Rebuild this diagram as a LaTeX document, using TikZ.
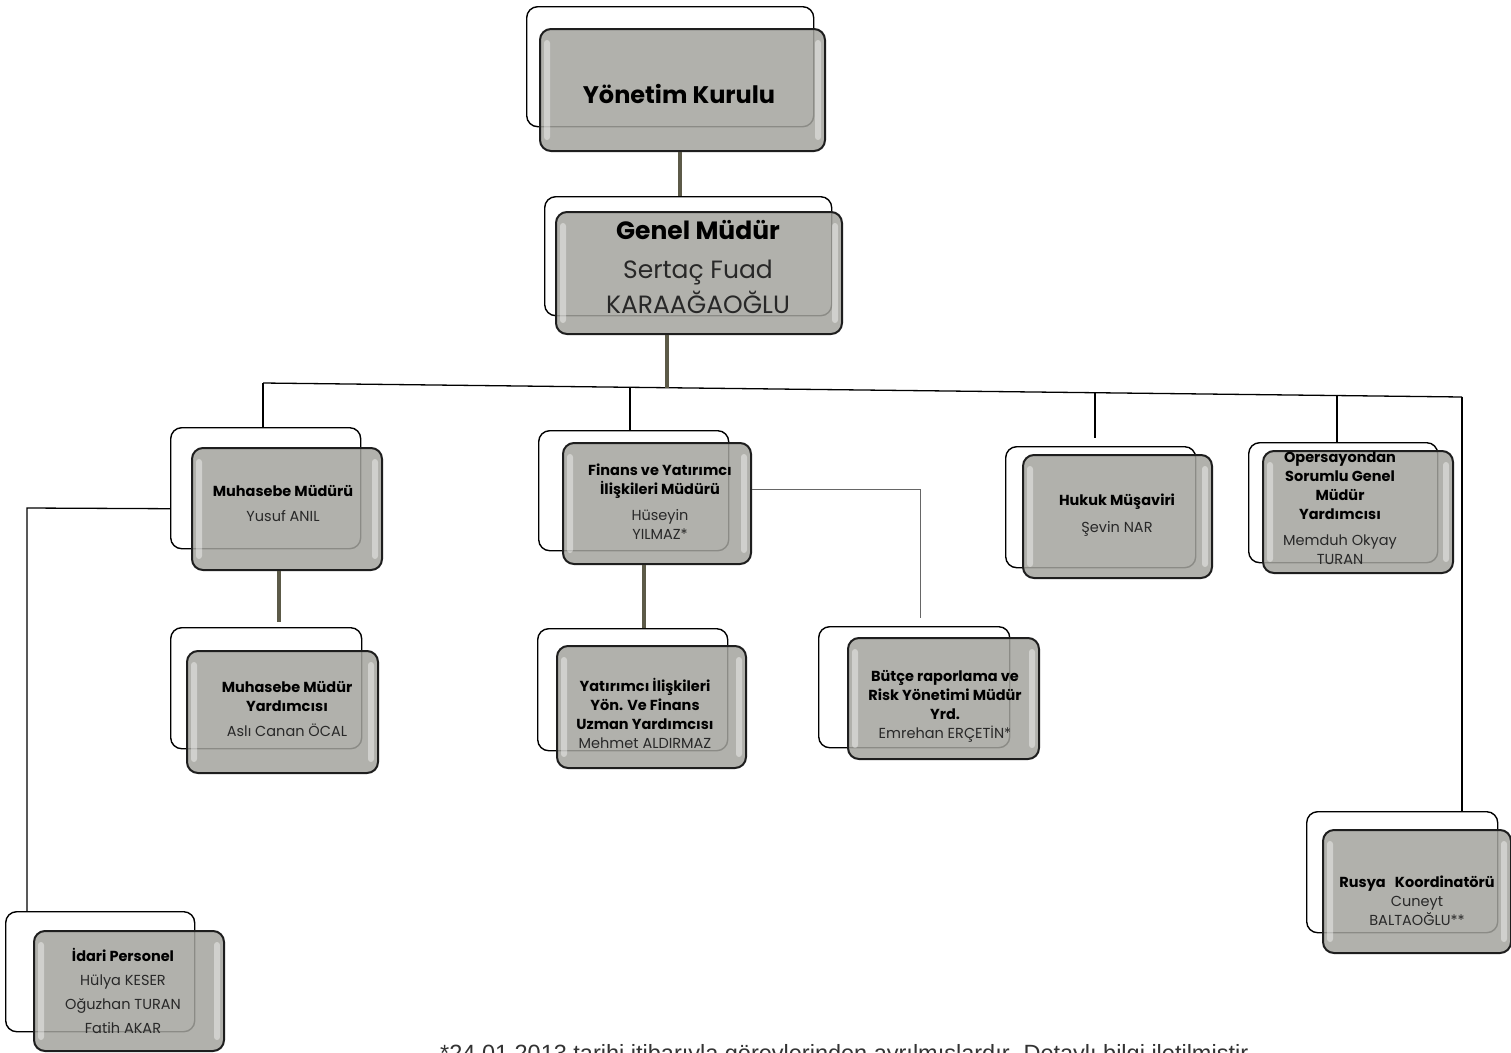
\documentclass[tikz,border=0pt]{standalone}
\usepackage{fontspec}
\setmainfont{Poppins}
\newfontfamily\footfont{Liberation Sans}
\definecolor{frontfill}{RGB}{164,164,158}
\definecolor{frontline}{RGB}{30,30,30}
\definecolor{connol}{RGB}{92,90,72}
\definecolor{nametext}{RGB}{40,40,40}
\newcommand\mkbox[9]{%
  \node[backbox, minimum width=#4pt, minimum height=#5pt] (#1B) at (#2,#3) {};
  \node[frontbox, minimum width=#8pt, minimum height=#9pt] (#1) at (#6,#7) {};
  \fill[gloss] ([xshift=5pt,yshift=-12pt]#1.north west) rectangle ([xshift=11pt,yshift=12pt]#1.south west);
  \fill[gloss] ([xshift=-11pt,yshift=-12pt]#1.north east) rectangle ([xshift=-5pt,yshift=12pt]#1.south east);
}
\begin{document}
\begin{tikzpicture}[x=1pt,y=-1pt,
  backbox/.style={draw=black, line width=1.4pt, fill=white, rounded corners=11pt, anchor=north west, inner sep=0pt},
  frontbox/.style={draw=frontline, line width=2pt, fill=frontfill, fill opacity=0.85, rounded corners=11pt, anchor=north west, inner sep=0pt},
  gloss/.style={fill=white, fill opacity=0.4, draw=none, rounded corners=3pt},
  boxtext/.style={align=center, font=\fontsize{14.5}{19}\selectfont, inner sep=0pt, text=nametext},
  thickconn/.style={draw=connol, line width=3.5pt},
  conn/.style={draw=black, line width=1.3pt},
  thinconn/.style={draw=black!60, line width=0.8pt},
]
\clip (0,0) rectangle (1511,1052);
\fill[white] (0,0) rectangle (1511,1052);

% boxes: name, back x,y,w,h, front x,y,w,h
\mkbox{yk}{526}{6}{287}{120}{539}{28}{285}{122}
\mkbox{gm}{544}{196}{287}{119}{555}{211}{286}{122}
\mkbox{muh}{170}{427}{190}{121}{191}{447}{190}{122}
\mkbox{fin}{538}{430}{190}{120}{562}{442}{188}{121}
\mkbox{huk}{1005}{446}{190}{121}{1022}{454}{189}{123}
\mkbox{ops}{1248}{442}{189}{120}{1262}{450}{190}{122}
\mkbox{muy}{170}{627}{191}{121}{186}{650}{191}{122}
\mkbox{yat}{537}{628}{190}{122}{556}{645}{189}{122}
\mkbox{but}{818}{626}{191}{121}{847}{637}{191}{121}
\mkbox{rus}{1306}{811}{191}{121}{1322}{829}{188}{123}
\mkbox{ida}{5}{911}{189}{120}{33}{930}{190}{120}

% texts
\node[boxtext, text=black, font=\fontsize{24}{30}\selectfont\bfseries] (yk-t) at (679,94) {Yönetim Kurulu};
\node[boxtext, font=\fontsize{25}{35}\selectfont] (gm-t) at (698,267) {\textcolor{black}{\fontsize{25}{30}\selectfont\bfseries Genel Müdür}\\[4pt]Sertaç Fuad\\KARAAĞAOĞLU};
\node[boxtext] (muh-t) at (283,503.5) {\textcolor{black}{\bfseries Muhasebe Müdürü}\\[6pt]Yusuf ANIL};
\node[boxtext] (fin-t) at (660,502) {\textcolor{black}{\bfseries Finans ve Yatırımcı}\\\textcolor{black}{\bfseries İlişkileri Müdürü}\\[7pt]Hüseyin\\YILMAZ*};
\node[boxtext] (huk-t) at (1117,515.5) {\textcolor{black}{\bfseries Hukuk Müşaviri}\\[8pt]Şevin NAR};
\node[boxtext] (ops-t) at (1340,508.5) {\textcolor{black}{\bfseries Opersayondan}\\\textcolor{black}{\bfseries Sorumlu Genel}\\\textcolor{black}{\bfseries Müdür}\\\textcolor{black}{\bfseries Yardımcısı}\\[7pt]Memduh Okyay\\TURAN};
\node[boxtext] (muy-t) at (287,709) {\textcolor{black}{\bfseries Muhasebe Müdür}\\\textcolor{black}{\bfseries Yardımcısı}\\[6pt]Aslı Canan ÖCAL};
\node[boxtext] (yat-t) at (645,713.5) {\textcolor{black}{\bfseries Yatırımcı İlişkileri}\\\textcolor{black}{\bfseries Yön. Ve Finans}\\\textcolor{black}{\bfseries Uzman Yardımcısı}\\Mehmet ALDIRMAZ};
\node[boxtext] (but-t) at (945,706) {\textcolor{black}{\bfseries Bütçe raporlama ve}\\\textcolor{black}{\bfseries Risk Yönetimi Müdür}\\\textcolor{black}{\bfseries Yrd.}\\Emrehan ERÇETİN*};
\node[boxtext] (rus-t) at (1417,900.5) {\textcolor{black}{\bfseries Rusya\ \ \ Koordinatörü}\\Cuneyt\\BALTAOĞLU**};
\node[boxtext, font=\fontsize{14.5}{24}\selectfont] (ida-t) at (123,991) {\textcolor{black}{\bfseries İdari Personel}\\Hülya KESER\\Oğuzhan TURAN\\Fatih AKAR};

% bus line and taps
\coordinate (busL) at (263,383);
\coordinate (busR) at (1462,397);
\coordinate (tapF) at (630,387.3);
\coordinate (tapG) at (667,387.7);
\coordinate (tapH) at (1095,392.7);
\coordinate (endH) at (1095,438);
\coordinate (tapO) at (1337,395.5);
\draw[conn] (busL) -- (busR);
\draw[conn] (busL) -- (busL |- muhB.north);
\draw[conn] (tapF) -- (tapF |- finB.north);
\draw[conn] (tapH) -- (endH);
\draw[conn] (tapO) -- (tapO |- opsB.north);
\draw[conn] (busR) -- (busR |- rusB.north);
\draw[thickconn] (tapG |- gm.south) -- (tapG);
\draw[thickconn] ([xshift=-2.5pt]yk.south) -- ([xshift=-2.5pt]yk.south |- gmB.north);

% left branch to Idari
\coordinate (cornerL) at (27,508);
\draw[conn] ([yshift=-20.5pt]muhB.west) -- (cornerL) -- (cornerL |- idaB.north);

% vertical thick links
\draw[thickconn] ([xshift=-8pt]muh.south) -- ([xshift=-8pt,yshift=5pt]muh.south |- muyB.north);
\draw[thickconn] ([xshift=-13pt]fin.south) -- ([xshift=-13pt]fin.south |- yatB.north);

% finans to butce
\coordinate (butTop) at (920,618);
\draw[thinconn] ([yshift=14.5pt]fin.east) -| (butTop);

% footnote (cut off at bottom, as in the reference)
\node[font=\footfont\fontsize{23.5}{28}\selectfont, anchor=base west, inner sep=0pt, text=black!80] (note) at (440,1061) {*24.01.2013 tarihi itibarıyla görevlerinden ayrılmışlardır. Detaylı bilgi iletilmiştir};
\end{tikzpicture}
\end{document}
